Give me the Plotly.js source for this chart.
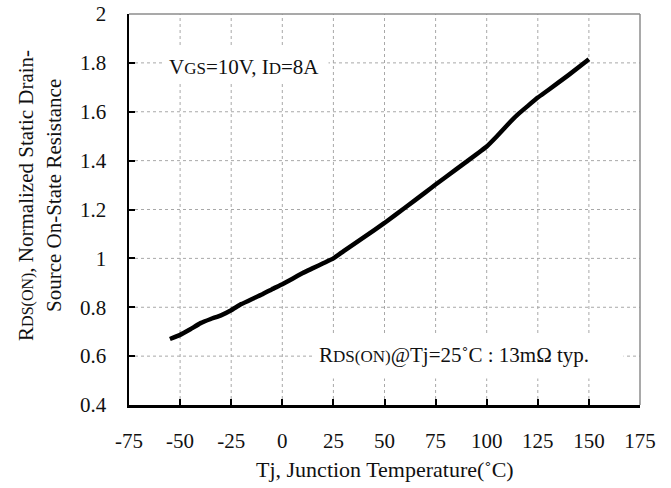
<!DOCTYPE html>
<html>
<head>
<meta charset="utf-8">
<script src="https://cdn.plot.ly/plotly-3.0.1.min.js"></script>
<style>html,body{margin:0;padding:0;background:#fff;}#chart{width:671px;height:488px;}</style>
</head>
<body>
<div id="chart"></div>
<script>
// Junction temperature (°C)
const tempC = [-55, -50, -45, -40, -35, -30, -25, -20, -15, -10, -5, 0, 5, 10, 15, 20, 25, 30, 40, 50, 60, 70, 75, 80, 90, 100, 105, 110, 115, 120, 125, 130, 140, 150];
// Normalized RDS(ON)
const rdsNorm = [0.670, 0.687, 0.710, 0.735, 0.752, 0.767, 0.788, 0.813, 0.833, 0.852, 0.874, 0.894, 0.917, 0.940, 0.960, 0.980, 1.000, 1.030, 1.087, 1.145, 1.207, 1.270, 1.302, 1.333, 1.395, 1.458, 1.500, 1.545, 1.587, 1.623, 1.658, 1.688, 1.750, 1.815];

const xTickVals = [-75, -50, -25, 0, 25, 50, 75, 100, 125, 150, 175];
const yTickVals = [0.4, 0.6, 0.8, 1, 1.2, 1.4, 1.6, 1.8, 2];
const xTickText = ["-75", "-50", "-25", "0", "25", "50", "75", "100", "125", "150", "175"];
const yTickText = ["0.4", "0.6", "0.8", "1", "1.2", "1.4", "1.6", "1.8", "2"];

const xTitle = "Tj, Junction Temperature(˚C)";
const yTitle = "R<span style=\"font-size:16px\">DS(ON)</span>, Normalized Static Drain-<br>Source On-State Resistance";
const note1 = "V<span style=\"font-size:17px\">GS</span>=10V, I<span style=\"font-size:17px\">D</span>=8A";
const note2 = "R<span style=\"font-size:17px\">DS(ON)</span>@Tj=25˚C : 13mΩ typ.";

const FONT = "Liberation Serif, Times New Roman, serif";

const xMin = xTickVals[0], xMax = xTickVals[xTickVals.length - 1];
const yMin = yTickVals[0], yMax = yTickVals[yTickVals.length - 1];

// Dotted gridlines at the interior tick positions, built from the tick arrays
const gridX = [], gridY = [];
xTickVals.slice(1, -1).forEach(v => { gridX.push(v, v, null); gridY.push(yMin, yMax, null); });
yTickVals.slice(1, -1).forEach(v => { gridX.push(xMin, xMax, null); gridY.push(v, v, null); });

const gridTrace = {
  x: gridX, y: gridY, type: "scatter", mode: "lines", connectgaps: false,
  line: {color: "#a8a8a8", width: 1, dash: "dot"}, hoverinfo: "skip"
};

const curve = {
  x: tempC, y: rdsNorm, type: "scatter", mode: "lines",
  line: {color: "#000", width: 4.5, shape: "spline", smoothing: 0.3},
  hoverinfo: "skip"
};

const layout = {
  width: 671, height: 488,
  margin: {l: 129, r: 31, t: 14, b: 83},
  showlegend: false,
  font: {family: FONT, size: 20, color: "#111"},
  xaxis: {
    range: [xMin, xMax], tickvals: xTickVals, ticktext: xTickText,
    showgrid: false, zeroline: false, showline: true, linecolor: "#000", linewidth: 2.5,
    ticks: "inside", ticklen: 6, tickwidth: 2, tickcolor: "#000",
    tickfont: {family: FONT, size: 21, color: "#111"}, ticklabelstandoff: 15,
    fixedrange: true
  },
  yaxis: {
    range: [yMin, yMax], tickvals: yTickVals, ticktext: yTickText,
    showgrid: false, zeroline: false, showline: true, linecolor: "#000", linewidth: 2.5,
    ticks: "inside", ticklen: 6, tickwidth: 2, tickcolor: "#000",
    tickfont: {family: FONT, size: 21, color: "#111"}, ticklabelstandoff: 16,
    fixedrange: true
  },
  shapes: [
    {type: "line", xref: "paper", yref: "paper", x0: 0, x1: 1, y0: 1, y1: 1, line: {color: "#8c8c8c", width: 1.5}, layer: "above"},
    {type: "line", xref: "paper", yref: "paper", x0: 1, x1: 1, y0: 0, y1: 1, line: {color: "#8c8c8c", width: 1.5}, layer: "above"}
  ],
  annotations: [
    // white backing boxes for the notes
    {text: " ", xref: "paper", yref: "paper", x: 0.230, y: 0.868, xanchor: "center", yanchor: "middle", showarrow: false, width: 163, height: 35, bgcolor: "#fff", borderpad: 0},
    {text: " ", xref: "paper", yref: "paper", x: 0.663, y: 0.124, xanchor: "center", yanchor: "middle", showarrow: false, width: 310, height: 43, bgcolor: "#fff", borderpad: 0},
    {text: note1, xref: "paper", yref: "paper", x: 0.225, y: 0.864, xanchor: "center", yanchor: "middle", showarrow: false, font: {family: FONT, size: 21, color: "#111"}},
    {text: note2, xref: "paper", yref: "paper", x: 0.636, y: 0.128, xanchor: "center", yanchor: "middle", showarrow: false, font: {family: FONT, size: 21, color: "#111"}},
    {text: xTitle, xref: "paper", yref: "paper", x: 0.50, y: -0.165, xanchor: "center", yanchor: "middle", showarrow: false, font: {family: FONT, size: 22, color: "#111"}},
    {text: yTitle, xref: "paper", yref: "paper", x: -0.174, y: 0.535, xanchor: "center", yanchor: "middle", textangle: -90, showarrow: false, font: {family: FONT, size: 21, color: "#111"}}
  ]
};

Plotly.newPlot("chart", [gridTrace, curve], layout, {staticPlot: true, displayModeBar: false});
</script>
</body>
</html>
